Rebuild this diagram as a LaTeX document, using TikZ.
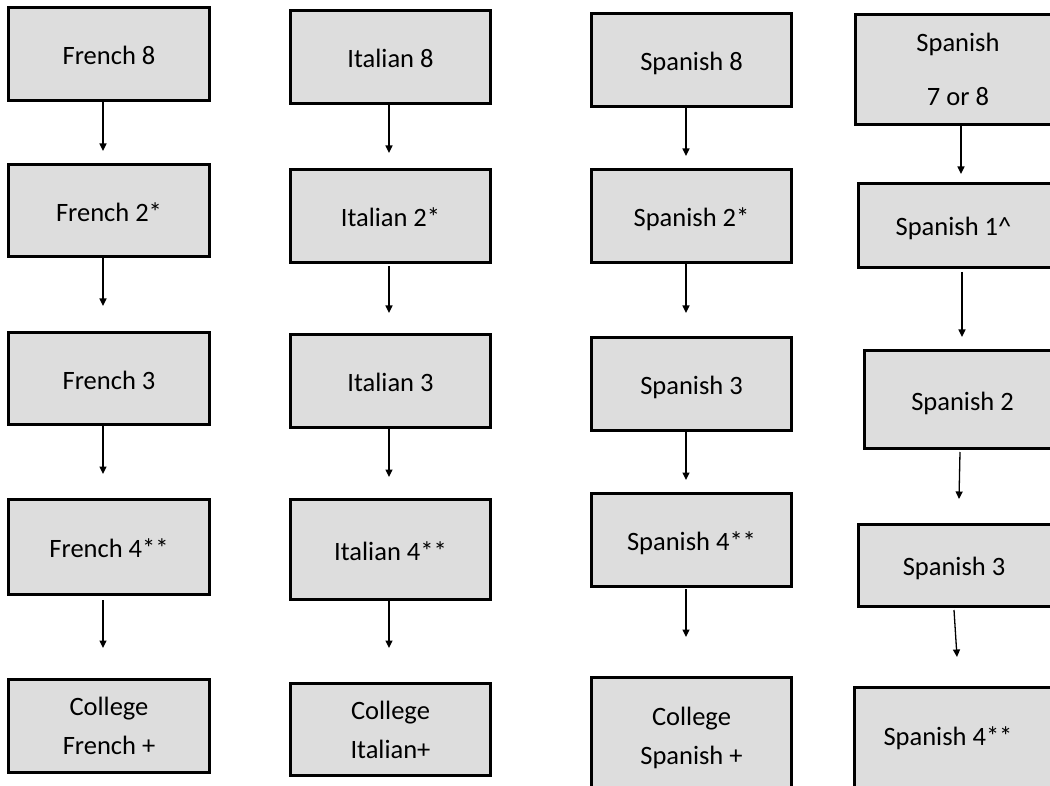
\documentclass[tikz,border=0pt]{standalone}
\usepackage{fontspec}
\setmainfont{Carlito}
\usetikzlibrary{arrows.meta,calc}
\definecolor{boxgray}{HTML}{DDDDDD}
\begin{document}
\begin{tikzpicture}[x=1pt,y=-1pt,
  txt/.style={font=\fontsize{26.5}{39}\selectfont},
  box/.style={draw=black,line width=2.8pt,fill=boxgray,inner sep=0pt,align=center,txt},
  one/.style={text height=21.2pt,text depth=0pt},
  lbl/.style={inner sep=0pt,txt,one},
  arr/.style={line width=1.3pt,-{Triangle[width=7pt,length=7.5pt]}},
  c1/.style={minimum width=201.2pt},
  c2/.style={minimum width=200.2pt},
  c3/.style={minimum width=200.2pt}
]
\useasboundingbox (0,0) rectangle (1050,786);
\clip (0,0) rectangle (1050,786);

% French
\node[box,c1,one,minimum height=93.2pt] (f1) at (109,54) {French 8};
\node[box,c1,one,minimum height=92.2pt] (f2) at (109,210.5) {French 2*};
\node[box,c1,one,minimum height=92.2pt] (f3) at (109,378.5) {French 3};
\node[box,c1,one,minimum height=95.2pt] (f4) at (109,547) {French 4**};
\node[box,c1,minimum height=93.2pt] (f5) at (109,726) {College\\French +};

% Italian
\node[box,c2,one,minimum height=93.2pt] (i1) at (390.5,57) {Italian 8};
\node[box,c2,one,minimum height=93.2pt] (i2) at (390.5,216) {Italian 2*};
\node[box,c2,one,minimum height=93.2pt] (i3) at (390.5,381) {Italian 3};
\node[box,c2,one,minimum height=100.2pt] (i4) at (390.5,549.5) {Italian 4**};
\node[box,c2,minimum height=92.2pt] (i5) at (390.5,729.5) {College\\Italian+};

% Spanish
\node[box,c3,one,minimum height=93.2pt] (p1) at (691.5,60) {Spanish 8};
\node[box,c3,one,minimum height=93.2pt] (p2) at (691.5,216) {Spanish 2*};
\node[box,c3,one,minimum height=93.2pt] (p3) at (691.5,384) {Spanish 3};
\node[box,c3,one,minimum height=93.2pt] (p4) at (691.5,540) {Spanish 4**};
\node[box,c3,minimum height=121.2pt] (p5) at (691.5,738) {College\\Spanish +};

% Spanish from 7 or 8
\node[box,minimum width=205.2pt,minimum height=110.2pt] (s1) at (958,69.5) {Spanish\\[15pt]7 or 8};
\node[box,minimum width=202.2pt,minimum height=84.2pt] (s2) at (959.5,225.5) {};
\node[lbl] (s2t) at (953.5,224.5) {Spanish 1\textasciicircum};
\node[box,one,minimum width=196.2pt,minimum height=98.2pt] (s3) at (962.5,399.5) {Spanish 2};
\node[box,minimum width=202.2pt,minimum height=82.2pt] (s4) at (959.5,565.5) {};
\node[lbl] (s4t) at (954,564.5) {Spanish 3};
\node[box,minimum width=206.2pt,minimum height=111.2pt] (s5) at (957.5,743) {};
\node[lbl] (s5t) at (948,735) {Spanish 4**};

% arrow tips
\coordinate (f12) at (103,151);
\coordinate (f23) at (103,306);
\coordinate (f34) at (103,474);
\coordinate (f45) at (103,648);
\coordinate (i12) at (389,153);
\coordinate (i23) at (389,313);
\coordinate (i34) at (389,477);
\coordinate (i45) at (389,648);
\coordinate (p12) at (686,156);
\coordinate (p23) at (686,313);
\coordinate (p34) at (686,480);
\coordinate (p45) at (686,637);
\coordinate (s12) at (961,174);
\coordinate (s23) at (962,337);
\coordinate (s34) at (959,499);
\coordinate (s45) at (957,657);

\draw[arr] (f1.south -| f12) -- (f12);
\draw[arr] (f2.south -| f23) -- (f23);
\draw[arr] (f3.south -| f34) -- (f34);
\draw[arr] ($(f4.south -| f45)+(0,4)$) -- (f45);
\draw[arr] (i1.south -| i12) -- (i12);
\draw[arr] ($(i2.south -| i23)+(0,2)$) -- (i23);
\draw[arr] (i3.south -| i34) -- (i34);
\draw[arr] (i4.south -| i45) -- (i45);
\draw[arr] (p1.south -| p12) -- (p12);
\draw[arr] (p2.south -| p23) -- (p23);
\draw[arr] (p3.south -| p34) -- (p34);
\draw[arr] ($(p4.south -| p45)+(0,1)$) -- (p45);
\draw[arr] (s1.south -| s12) -- (s12);
\draw[arr] ($(s2.south -| s23)+(0,3)$) -- (s23);
\draw[arr] ($(s3.south)+(-2.5,2)$) -- (s34);
\draw[arr] ($(s4.south)+(-5.5,2)$) -- (s45);
\end{tikzpicture}
\end{document}
